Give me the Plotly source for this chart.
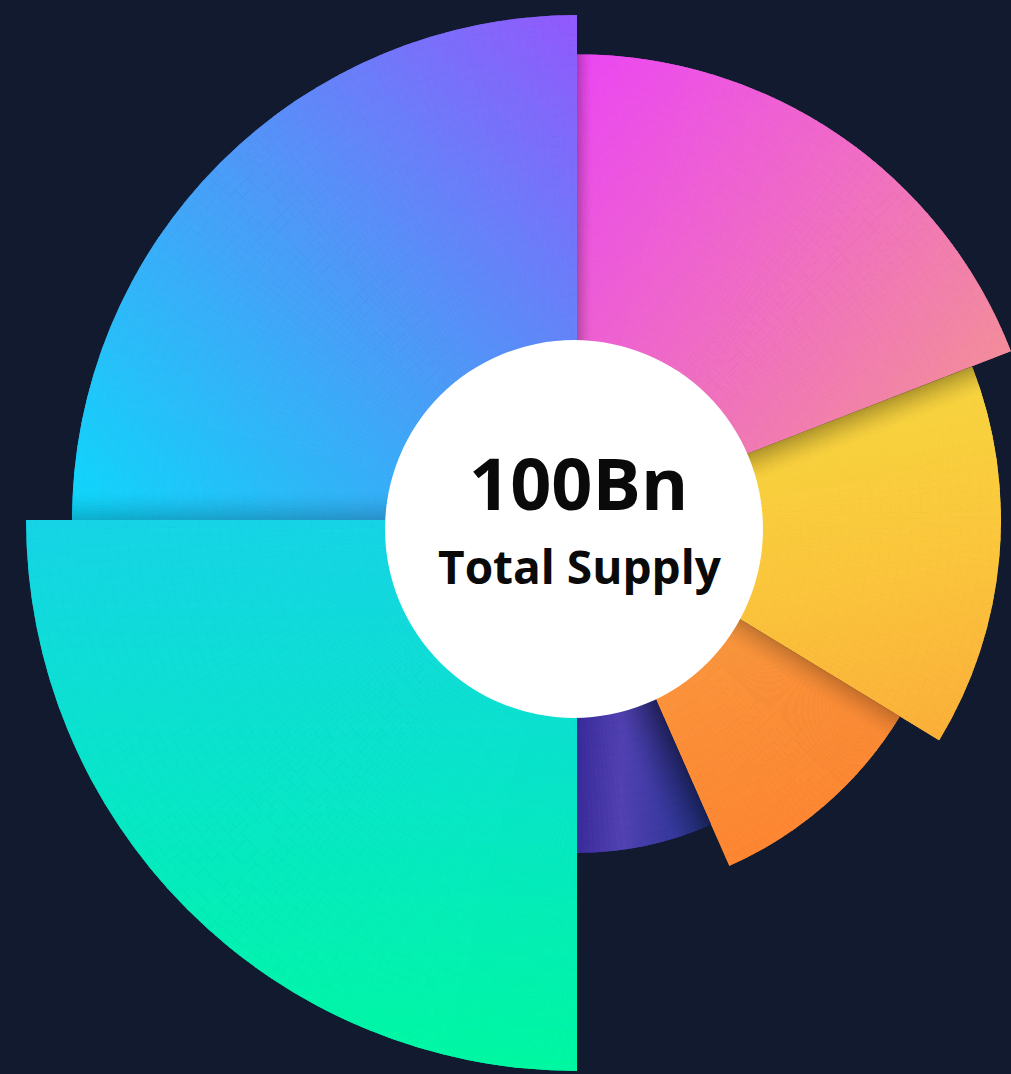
import numpy as np
import plotly.graph_objects as go

# ---------------- data (clockwise from 12 o'clock) ----------------
categories = ["Allocation A", "Allocation B", "Allocation C", "Allocation D", "Allocation E", "Allocation F"]
shares = [19.1, 14.6, 9.7, 6.6, 25, 25]     # % of total supply -> angular width
radii = [466, 424, 378, 333, 551, 505]      # outer radius of each slice (radial units)
center_value = "100Bn"
center_caption = "Total Supply"

# ---------------- style ----------------
W, H = 1011, 1074
CX, CY = 577, 520            # pie centre in px (from top-left)
HOLE_CX, HOLE_CY, HOLE_R = 574, 529, 189
BG = "#111a2e"
# linear gradient per slice: screen direction (dx, dy; y down) and colour stops
GRADIENTS = [
    ((1.0, 0.8), ["#ec48f3", "#f06ac8", "#f38c9c"]),
    ((0.2, 1.0), ["#f8d640", "#fbc63c", "#fbb03a"]),
    ((0.3, 1.0), ["#fb9a40", "#fc8e38", "#fd8632"]),
    ((1.0, 0.0), ["#3b2c9c", "#5242b2", "#3a3aa0", "#2a3c96"]),
    ((0.0, 1.0), ["#16d4e6", "#08e6c8", "#00f8a2"]),
    ((1.0, -1.0), ["#0fd8fb", "#4b9cf8", "#915afc"]),
]
# soft shadow along the leading (counter-clockwise) edge: (strength, width px)
SHADOWS = [(0.25, 16), (0.30, 30), (0.22, 28), (0.45, 45), (0.0, 1), (0.20, 30)]


def hex2rgb(h):
    h = h.lstrip("#")
    return np.array([int(h[i:i + 2], 16) for i in (0, 2, 4)], dtype=float)


def interp(stops, t, dark=0.0):
    cols = [hex2rgb(s) for s in stops]
    n = len(cols) - 1
    t = min(max(t, 0.0), 1.0) * n
    i = min(int(t), n - 1)
    f = t - i
    c = (cols[i] * (1 - f) + cols[i + 1] * f) * (1 - dark)
    return "rgb(%d,%d,%d)" % tuple(np.round(c).astype(int))


def sector_bbox(p0, p1):
    """bbox (unit circle, y up) of the wedge between math angles p0<p1 incl. origin"""
    xs = [0.0, np.cos(np.radians(p0)), np.cos(np.radians(p1))]
    ys = [0.0, np.sin(np.radians(p0)), np.sin(np.radians(p1))]
    for k in range(-2, 3):
        for ang, (x, y) in ((0, (1, 0)), (90, (0, 1)), (180, (-1, 0)), (270, (0, -1))):
            a = ang + 360 * k
            if p0 <= a <= p1:
                xs.append(x)
                ys.append(y)
    return min(xs), min(ys), max(xs), max(ys)


fig = go.Figure()
layout_polars = {}
starts = np.concatenate([[0], np.cumsum(shares)[:-1]]) * 3.6
for i, (cat, share, r) in enumerate(zip(categories, shares, radii)):
    a = starts[i]
    b = a + share * 3.6
    sub = "polar" if i == 0 else "polar%d" % (i + 1)

    # cells for a smooth gradient fill (finer near the shadowed leading edge)
    fine_end = min(b, a + 14.0)
    th_edges = np.linspace(a, fine_end, int(np.ceil((fine_end - a) / 0.3)) + 1)
    if b > fine_end:
        th_edges = np.concatenate([th_edges, np.linspace(fine_end, b, int(np.ceil((b - fine_end) / 1.0)) + 1)[1:]])
    r_edges = np.concatenate([[0.0], np.linspace(HOLE_R - 25, r, int((r - HOLE_R + 25) / 10) + 1)])
    thc, wid, base, ln, cx, cy, dist = [], [], [], [], [], [], []
    for j in range(len(th_edges) - 1):
        for k in range(len(r_edges) - 1):
            t0, t1 = th_edges[j], th_edges[j + 1]
            r0, r1 = r_edges[k], r_edges[k + 1]
            tm = 0.5 * (t0 + t1)
            rm = 0.5 * (r0 + r1) if k > 0 else r1
            thc.append(tm)
            wid.append(t1 - t0)
            base.append(r0)
            ln.append(r1 - r0)
            cx.append(rm * np.sin(np.radians(tm)))
            cy.append(-rm * np.cos(np.radians(tm)))
            dist.append(rm * np.sin(np.radians(min(tm - a, 90))))
    d, stops = GRADIENTS[i]
    s_amt, s_w = SHADOWS[i]
    proj = np.array(cx) * d[0] + np.array(cy) * d[1]
    tt = (proj - proj.min()) / (proj.max() - proj.min() + 1e-9)
    cols = [interp(stops, t, s_amt * max(0.0, 1 - dd / s_w) ** 1.5) for t, dd in zip(tt, dist)]

    fig.add_trace(go.Barpolar(
        theta=thc, width=wid, base=base, r=ln,
        marker=dict(color=cols, line=dict(color=cols, width=1)),
        name=cat, subplot=sub, showlegend=False,
        hovertemplate=cat + ": %.1f%%<extra></extra>" % share,
    ))

    # place the sub-plot so that one radial unit == 1 px around the common centre
    p0, p1 = 90 - b, 90 - a
    x0, y0, x1, y1 = sector_bbox(p0, p1)
    px0, px1 = CX + r * x0, CX + r * x1
    py0, py1 = CY - r * y1, CY - r * y0
    dom_x = [max(0, px0 / W), min(1, px1 / W)]
    dom_y = [max(0, 1 - py1 / H), min(1, 1 - py0 / H)]
    layout_polars[sub] = dict(
        domain=dict(x=dom_x, y=dom_y),
        sector=[p0, p1],
        hole=0,
        bgcolor="rgba(0,0,0,0)",
        radialaxis=dict(visible=False, range=[0, r]),
        angularaxis=dict(visible=False, rotation=90, direction="clockwise"),
    )

fig.update_layout(**layout_polars)
fig.update_layout(
    width=W, height=H,
    margin=dict(l=0, r=0, t=0, b=0, pad=0),
    paper_bgcolor=BG, plot_bgcolor=BG,
    shapes=[dict(type="circle", xref="paper", yref="paper", layer="above",
                 x0=(HOLE_CX - HOLE_R) / W, x1=(HOLE_CX + HOLE_R) / W,
                 y0=1 - (HOLE_CY + HOLE_R) / H, y1=1 - (HOLE_CY - HOLE_R) / H,
                 fillcolor="white", line=dict(width=0))],
    annotations=[
        dict(text="<b>%s</b>" % center_value, x=578 / W, y=1 - 482 / H, xref="paper", yref="paper",
             showarrow=False, font=dict(family="Open Sans", size=72, color="#0a0a0a"),
             xanchor="center", yanchor="middle"),
        dict(text="<b>%s</b>" % center_caption, x=580 / W, y=1 - 566 / H, xref="paper", yref="paper",
             showarrow=False, font=dict(family="Open Sans", size=46, color="#0a0a0a"),
             xanchor="center", yanchor="middle"),
    ],
)

fig.write_html(
    "out.html",
    config={"displayModeBar": False},
    post_script="document.body.style.margin='0';document.body.style.background='%s';" % BG,
)
